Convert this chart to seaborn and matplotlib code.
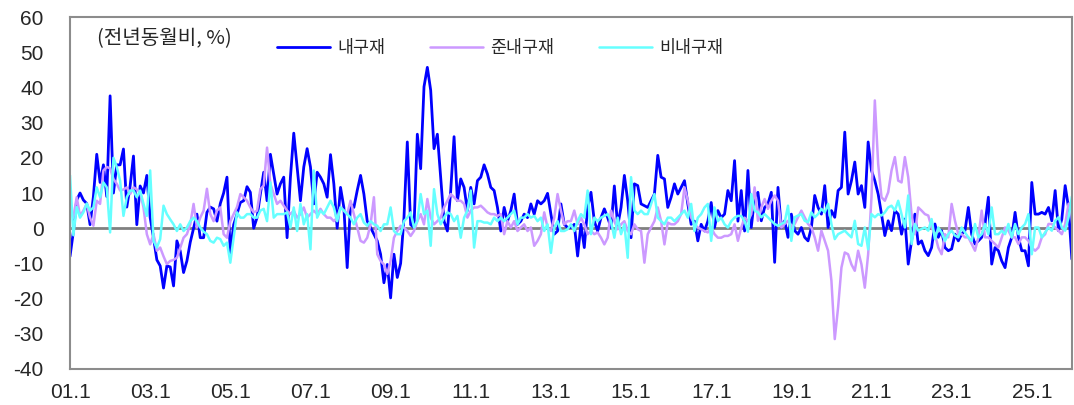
import matplotlib
matplotlib.use("Agg")

import matplotlib.pyplot as plt

import seaborn as sns

import pandas as pd



#====================================================================================================
# monthly y/y change, 2001.1 ~ 2026.1
durable = [
    -8, -1, 8, 10, 8, 7, 1, 9, 21, 13,
    18, 9, 37.6, 10, 18, 18, 22.5, 6, 12, 20.5,
    1, 12, 10, 15, 3, -2.7, -9, -10.7, -17, -10.7,
    -11, -16.4, -3.6, -6.5, -12.6, -9.3, -4, 0, 4, -2.7,
    -2.7, 4.5, 6, 5.5, 2, 7, 10, 14.5, -7, 1,
    4, 7.3, 7.8, 11.8, 10.2, 0, 3, 9.7, 15.9, 7.8,
    21, 15.4, 9.7, 12.6, 14.5, -2.7, 14.5, 27, 17.4, 7.8,
    17.4, 22.6, 17.4, 6.9, 15.9, 14.5, 12.6, 8.8, 20.9, 12.6,
    0, 11.6, 5.9, -11.2, 6.9, 5.9, 10.7, 15, 9.7, 2,
    0.2, -1.7, -3.6, -7.4, -15.5, -10.3, -19.8, -7.4, -14, -10,
    3, 24.5, 1, 0.2, 26.7, 16.9, 40.2, 45.7, 39.2, 22.6,
    26.7, 14.5, 2, -0.8, 10.7, 26, 7.8, 14, 11.6, 5,
    11.6, 6.9, 13.5, 14.5, 18, 15.4, 11.6, 10.7, 5.9, -0.8,
    5.9, 2, 5, 9.7, 1.1, 2, 4, 3, 6.9, 4,
    7.8, 6.9, 7.8, 9.9, 4, -1.7, -0.8, 6.9, 1.1, 0.2,
    0.2, 1.1, -7.9, 1.1, -5.5, 5.9, 10.2, 2, -0.8, 3,
    5.5, 3, 0.2, 12, 0.7, 5.9, 15, 7.8, -2.7, 12.6,
    12.1, 6.9, 6.4, 5.9, 7.8, 9.7, 20.7, 14.5, 14, 5.9,
    8.8, 12.6, 9.7, 11.6, 13.5, 6.9, 1.1, 2, -3.6, 1.1,
    -0.8, 2, 7.3, 0.2, 5, 3, 4, 10.7, 7.8, 19.2,
    2, 10.7, -0.8, 16.4, 0.2, 8.8, 10.2, 2.1, 5.9, 6.9,
    10.2, -9.7, 11.6, 0.2, 2.1, -2.6, 4, -0.7, -1.7, 0.2,
    -2.6, -3.6, 0.2, 9.3, 5.9, 4, 12.1, 0.2, 5, 3.1,
    10.7, 11.6, 27.3, 9.7, 13.5, 18.8, 9.7, 12.1, 5.9, 24.5,
    16.4, 13.5, 9.7, 4, -2.1, 2.1, -0.7, 5, 4, -1.7,
    2.6, -10.2, -3.6, 4, -4.5, -3.6, -6.4, -7.8, -5.5, 1.2,
    -2.6, -0.7, -5.5, -6.4, -5.9, -1.7, -3.6, -1.7, -0.7, 5.9,
    -1.7, -4.5, -3.6, -2.6, 1.2, 8.8, -10.2, -5.5, -6.4, -9.3,
    -11.2, -5.5, -2.6, 4.5, -2.6, -6.4, -6.4, -10.7, 13, 4,
    4, 4.5, 4, 5.9, 2.1, 10.7, -0.7, 2.6, 12.1, 5.9, -8.8,
]

semi_durable = [
    6, 3, 8.8, 3.5, 5, 6.9, 3, 0.7, 7.8, 6.9,
    16.4, 17.4, 17, 14, 12.6, 10.7, 11, 11.6, 9.7, 11.6,
    11, 10.2, 5.9, -1.7, -4.6, -1.7, -6.4, -5.5, -8, -10.2,
    -9.3, -9, -8.4, -5.5, -2.7, -1.7, 1.1, 6.9, 0.2, 3,
    5, 11.2, 4, 2, 5, 5.9, -1.7, -2.7, 2, 4,
    6, 9.7, 8.8, 7.8, 5.9, 4.5, 5, 11.1, 12.1, 22.9,
    12.6, 9.7, 6.9, 7.8, 6.4, 5, 4, 5, 3, 4,
    5.9, 3, 4, 5, 4, 5.5, 4, 3, 3, 2,
    3, 5.9, 5, 4, 7.8, 4, 0.2, -3.6, -4.1, -2.7,
    1.1, 8.8, -7.4, -9.3, -10.3, -13, -9.3, -2.7, -0.8, 0.7,
    0.2, -0.8, -2.2, -0.8, 2, 4, 1.1, 8.3, 3, 1.1,
    2, 3, 5.9, 7.8, 9.7, 8.8, 7.8, 7.8, 6.9, 3,
    5, 5.9, 5.9, 6.4, 5.5, 4.5, 4, 4, 3.5, 4,
    -1.7, 2, 0.2, 2, -0.8, 0.2, 1.1, -0.8, 0.2, -5,
    -3.6, -1.7, 4.5, 0.2, -0.8, 3, 9.7, 5, 1.1, 2,
    2, 5, 1.1, 3, 1.1, -1.7, -0.8, -1.7, -1.2, -2.7,
    -4.6, -2.7, 5, 2, -0.3, 1.1, 2, -0.8, -1.7, 1.1,
    -0.3, -0.8, -9.8, -1.7, 0.2, 2, 5.9, 2, -4.6, 1.6,
    1.1, 1.1, 2, 4, 11.6, 7.8, 3, 1.1, 0.2, -0.3,
    -0.8, -1.2, 0.2, -1.7, -2.7, -2.7, -2.2, -2.2, -1.7, 1.1,
    -3.6, 0.2, 3, 2, 4, 11.6, 2.1, 5.9, 8.3, 5.5,
    7.8, 9.3, 7.8, 0.2, 1.2, 2.1, 0.2, 1.2, 3.1, 5,
    3.1, 1.2, 0.2, -2.6, -6.4, -0.7, -3.6, -6.4, -14.9, -31.5,
    -22.5, -11.2, -6.9, -7.4, -10.3, -12.1, -6.4, -10.3, -16.9, -7.4,
    8.8, 36.3, 18.3, 8.8, 7.8, 10.2, 16.4, 20.2, 13.5, 13,
    20.2, 14.5, 4, -1.7, 5.9, 5, 4, 3.6, 0.2, -1.7,
    -5.5, -7.4, -1.7, -2.6, 6.9, 2.1, -1.7, -1.7, -2.6, -2.6,
    -4.5, -6.4, -2.6, 5, -2.6, -2.6, -3.6, -4.5, -5.5, -2.6,
    0.2, -0.7, -2.6, -2.6, -4.5, -2.6, -2.6, -3.6, -5.5, -6.4,
    -5.5, -2.6, -1.7, 1.2, 1.2, 0.2, -0.7, -1.7, 1.2, 6.9, 7.4,
]

non_durable = [
    15, -2, 6, 3, 4.5, 7, 5, 5.9, 11.6, 8.8,
    13, 11.6, -1.2, 20, 17.4, 13.5, 3.5, 8.8, 10.7, 10.7,
    8.8, 10.7, 6.9, 3.5, 16.4, -3.6, -5.5, -3.1, 6.4, 4,
    2.5, 1.1, -0.8, 1.1, -0.8, 0.2, 2, 3, 2, 0.2,
    -1, -1.7, -3.6, -4.1, -2.7, -3.1, -5, -4.1, -9.8, -2.7,
    4.5, 3, 3, 4, 4, 3, 3, 5, 5.5, 2,
    13, 3, 4, 4, 4, 4.5, 0.2, 5.9, -0.8, 6.9,
    1.1, 4, -6, 16.4, 3, 5, 4, 5.9, 7.8, 5.9,
    2, 5.9, 5, 4, 3, 1.1, 3, 4, 1.6, 0.7,
    2, 1.1, 0.7, -0.8, 1.1, 1.1, 5.9, -0.8, -1.7, -1.7,
    2, 3, 4.5, 0.2, 2, 9.7, 4, 5, -5, 11.1,
    4, 1.1, 3, 4.5, 4, 2, 3.5, -2.7, 3, 5,
    10.7, -5.5, 2, 2, 1.6, 1.6, 1.1, 3, 2, 3,
    2, 3, 4, 5, 1.1, 3, 3, 4, 3, 3.5,
    2, 3, -0.8, 1.1, -7, 0.2, 2, -0.8, -0.8, -0.3,
    1.1, -0.8, 2, 4, 3, 10.7, -1.7, 3, 2, 3,
    3.5, 4, 2, -2.7, 3, -1.7, 1.1, -8.4, 14.5, 5,
    4, 5, 4, 4, 6.9, 9.7, 3, 2, 1.1, 3,
    3, 2, 3, 4, 5, 3, 6.9, -0.8, 3, 4,
    5.9, 6.9, -3.6, 5.9, 2, 3, 1.1, 0.2, 2, 3,
    3.5, 3.5, 2, -1, 9.7, 5, 4.5, 3.1, 4, 3.1,
    2.1, 1.2, 0.7, 1.2, 1.7, 6.4, -3.6, 3.1, 3.6, 4,
    2.1, 1.7, 4.5, 3.1, 4, 5.5, 4.5, 6.9, 1.2, -3.1,
    -1.7, -1.2, -0.7, -1.7, -2.6, 2.1, -4.5, -5, 0.2, -6,
    4, 3.1, 4, 3.6, 4.5, 5.9, 6.4, 5, 7.8, 4,
    0.2, 9.3, -4.5, 1.2, -0.7, -0.2, 0.2, -0.7, 2.6, -3.1,
    0.2, -1.2, -3.6, -1.7, -0.7, -2.1, -2.6, 0.2, -1.2, -2.6,
    -3.6, 1.2, -2.6, -1.7, 1.2, -1.7, 5.9, -1.7, -1.7, -0.7,
    -1.7, 1.2, -2.6, 1.2, -1.7, 0.2, 1.2, 4, -7.4, 0.2,
    0.2, -2.6, -1.2, 0.2, -0.7, 2.1, 3.1, 0.2, -0.7, 3, 9,
]

series_names  = ['내구재', '준내구재', '비내구재']

series_colors = ['#0000FF', '#CC99FF', '#66FFFF']

tick_labels   = ['01.1', '03.1', '05.1', '07.1', '09.1', '11.1', '13.1',
                 '15.1', '17.1', '19.1', '21.1', '23.1', '25.1']
#====================================================================================================



#----------------------------------------------------------------------------------------------------
df = pd.DataFrame({
    't': list(range(len(durable))),
    series_names[0]: durable,
    series_names[1]: semi_durable,
    series_names[2]: non_durable,
})

df_long = df.melt(id_vars='t', var_name='series', value_name='value')


sns.set_style('white')

plt.rcParams['font.family'] = ['Liberation Sans', 'Noto Sans CJK KR', 'DejaVu Sans']

plt.rcParams['axes.unicode_minus'] = False


fig = plt.figure(figsize=(10.74, 4.05), dpi=100)

ax = fig.add_axes([0.0652, 0.0889, 0.9328, 0.8691])


ax.axhline(0, color='#808080', linewidth=2, zorder=1)


widths = [2.0, 1.8, 1.8]

for name, color, lw in zip(series_names, series_colors, widths):

    sns.lineplot(data=df_long[df_long['series'] == name], x='t', y='value',
                 color=color, linewidth=lw, label=name, ax=ax, zorder=2,
                 solid_joinstyle='round')


#----------------------------------------------------------------------------------------------------
ax.set_xlim(0, len(durable) - 1)

ax.set_ylim(-40, 60)

ax.set_yticks(range(-40, 61, 10))

ax.set_xticks(range(0, 12 * 25, 24))

ax.set_xticklabels(tick_labels)

ax.set_xlabel('')

ax.set_ylabel('')

ax.tick_params(axis='y', direction='in', length=4, width=1.2, color='#808080',
               labelsize=15, pad=19)

ax.tick_params(axis='x', length=0, labelsize=15, pad=10)

for s in ax.spines.values():

    s.set_color('#8c8c8c')

    s.set_linewidth(1.5)


ax.text(0.027, 0.940, '(전년동월비, %)', transform=ax.transAxes,
        fontsize=14.5, va='center', ha='left', family=['Noto Sans CJK KR'])

ax.legend(loc='center left', bbox_to_anchor=(0.2066, 0.912), ncol=3, frameon=False,
          borderpad=0, borderaxespad=0,
          prop={'family': 'Noto Sans CJK KR', 'size': 12.5},
          handlelength=3.05, handletextpad=0.4, columnspacing=2.6)


plt.savefig('out.png', dpi=100)
